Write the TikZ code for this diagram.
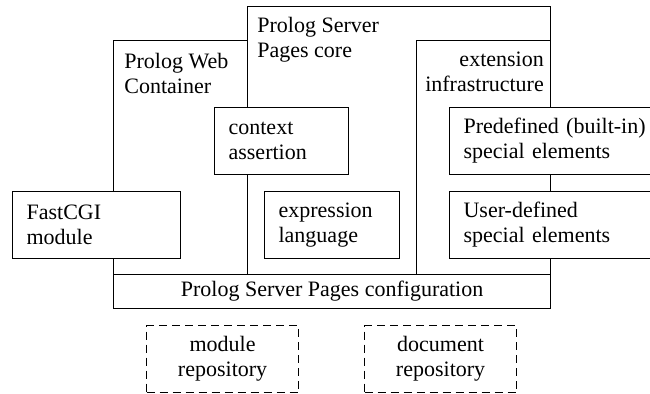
\documentclass[tikz,border=0pt]{standalone}
\usepackage{fontspec}
\setmainfont{Liberation Serif}
\tikzset{
  psp/.style={draw, line width=0.6pt, anchor=north west, inner sep=0pt},
  comp/.style={psp, fill=white, align=left, inner xsep=7pt,
    minimum height=33.5pt, font=\fontsize{11}{12.5}\selectfont},
  repo/.style={comp, align=center, dash pattern=on 4pt off 2.5pt},
  boxtitle/.style={inner sep=0pt, font=\fontsize{11}{12.5}\selectfont}
}

\begin{document}
\begin{tikzpicture}[x=0.5pt,y=-0.5pt]
	%%%%% START %%%%%
	\useasboundingbox (0,0) rectangle (650,394);

	% containers
	\node[psp, minimum width=67pt, minimum height=117pt] (web) at (113,40) {};
	\node[psp, minimum width=151.5pt, minimum height=134pt] (core) at (247,6) {};
	\node[psp, minimum width=67pt, minimum height=117pt] (ext) at (416,40) {};

	\node[boxtitle, anchor=north west, align=left] (webtitle)
		at ([xshift=5.5pt,yshift=-6.5pt]web.north west) {Prolog Web\\Container};
	\node[boxtitle, anchor=north west, align=left] (coretitle)
		at ([xshift=5pt,yshift=-5.5pt]core.north west) {Prolog Server\\Pages core};
	\node[boxtitle, anchor=north east, align=right] (exttitle)
		at ([xshift=-3.5pt,yshift=-6pt]ext.north east) {extension\\infrastructure};

	\node[psp, fill=white, minimum width=218.5pt, minimum height=17pt,
		font=\fontsize{11}{12.5}\selectfont] (config) at (113,274) {Prolog Server Pages configuration};

	% components
	\node[comp, text width=53pt] (context) at (214,107) {context\\assertion};
	\node[comp, text width=70pt] (fastcgi) at (12,191) {FastCGI\\module};
	\node[comp, text width=53.5pt] (expr) at (264,191) {expression\\language};
	\node[comp, text width=96pt] (predef) at (449,107) {Predefined (built-in)\\special elements};
	\node[comp, text width=96pt] (userdef) at (449,191) {User-defined\\special elements};

	% repositories
	\node[repo, text width=62pt] (modrepo) at (146,325) {module\\repository};
	\node[repo, text width=62pt] (docrepo) at (364,325) {document\\repository};
	%%%%% END %%%%%
\end{tikzpicture}
\end{document}
